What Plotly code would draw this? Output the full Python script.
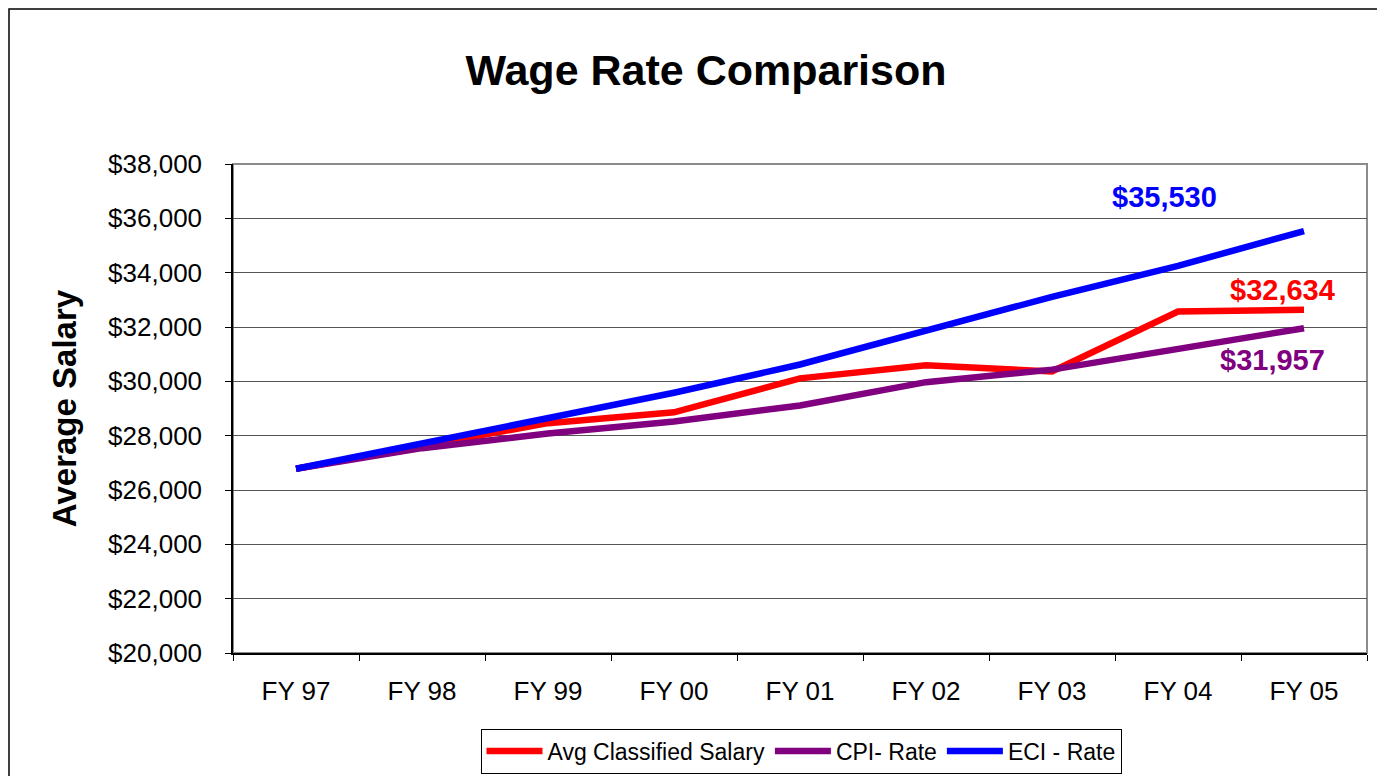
import plotly.graph_objects as go

categories = ["FY 97", "FY 98", "FY 99", "FY 00", "FY 01", "FY 02", "FY 03", "FY 04", "FY 05"]
avg_salary = [26780, 27600, 28460, 28860, 30110, 30590, 30360, 32570, 32634]
cpi_rate = [26780, 27540, 28080, 28520, 29110, 29970, 30430, 31180, 31957]
eci_rate = [26780, 27720, 28640, 29580, 30620, 31840, 33110, 34250, 35530]
y_ticks = [20000, 22000, 24000, 26000, 28000, 30000, 32000, 34000, 36000, 38000]

FONT = "Liberation Sans, Arial, sans-serif"

W, H = 1369, 768  # page body has an 8px default margin on each side
L, T, R, B = 225, 156, 10, 123

fig = go.Figure()
fig.add_trace(go.Scatter(x=categories, y=avg_salary, mode="lines", name="Avg Classified Salary",
                         line=dict(color="#FF0000", width=6.5)))
fig.add_trace(go.Scatter(x=categories, y=cpi_rate, mode="lines", name="CPI- Rate",
                         line=dict(color="#800080", width=6.5)))
fig.add_trace(go.Scatter(x=categories, y=eci_rate, mode="lines", name="ECI - Rate",
                         line=dict(color="#0000FF", width=6.5)))

fig.add_annotation(x=categories[-1], y=eci_rate[-1], text="<b>$35,530</b>", showarrow=False,
                   xshift=-140, yshift=34, font=dict(color="#0000FF", size=29, family=FONT))
fig.add_annotation(x=categories[-1], y=avg_salary[-1], text="<b>$32,634</b>", showarrow=False,
                   xshift=-22, yshift=20, font=dict(color="#FF0000", size=29, family=FONT))
fig.add_annotation(x=categories[-1], y=cpi_rate[-1], text="<b>$31,957</b>", showarrow=False,
                   xshift=-32, yshift=-32, font=dict(color="#800080", size=29, family=FONT))

pw = W - L - R
ph = H - T - B
# outer chart border
fig.add_shape(type="rect", xref="paper", yref="paper",
              x0=(1 - L) / pw, y0=-0.35, x1=1.05, y1=(T + ph - 1) / ph,
              line=dict(color="black", width=1.5), layer="below")
# plot area border (top/right gray)
fig.add_shape(type="rect", xref="paper", yref="paper", x0=0, y0=0, x1=1, y1=1,
              line=dict(color="#8c8c8c", width=2), layer="below")

fig.update_layout(
    width=W, height=H,
    margin=dict(l=L, r=R, t=T, b=B, autoexpand=False),
    paper_bgcolor="white", plot_bgcolor="white",
    title=dict(text="<b>Wage Rate Comparison</b>", x=(706 - 233) / pw, xref="paper", xanchor="center",
               y=1 - 62 / H, yref="container", yanchor="middle",
               font=dict(size=43, family=FONT, color="black")),
    font=dict(family=FONT, color="black"),
    showlegend=True,
    legend=dict(orientation="h", x=(801 - 233) / pw, y=(653 - 751) / ph, xanchor="center", yanchor="middle",
                bordercolor="black", borderwidth=1, bgcolor="white",
                font=dict(size=23, family=FONT, color="black"), itemwidth=56,
                tracegroupgap=0),
    xaxis=dict(type="category", tickson="boundaries", ticks="outside", ticklen=6, tickcolor="black",
               showline=True, linecolor="black", linewidth=1.5, showgrid=False, mirror=False,
               ticklabelstandoff=14, automargin=False,
               tickfont=dict(size=26, family=FONT, color="black"), range=[-0.5, 8.5]),
    yaxis=dict(range=[20000, 38000], tickvals=y_ticks, tickformat="$,.0f",
               ticks="outside", ticklen=6, tickcolor="black",
               showline=True, linecolor="black", linewidth=1.5,
               showgrid=True, gridcolor="#555555", gridwidth=1, zeroline=False,
               ticklabelstandoff=18, automargin=False,
               tickfont=dict(size=26, family=FONT, color="black"),
               title=dict(text="<b>Average Salary</b>", standoff=22,
                          font=dict(size=33, family=FONT, color="black"))),
)

fig.write_html("out.html")
